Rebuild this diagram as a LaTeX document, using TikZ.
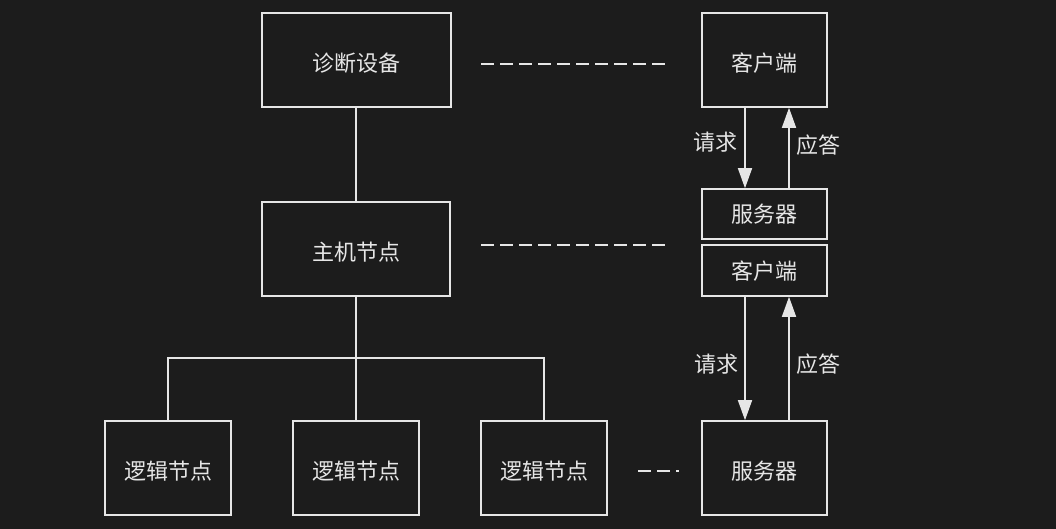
\documentclass[tikz,border=0pt]{standalone}
\usepackage{fontspec}
\newfontfamily\cjk{Noto Sans CJK SC}
\usetikzlibrary{arrows.meta}
\definecolor{bg}{HTML}{1C1C1C}
\definecolor{fg}{HTML}{E6E6E6}
\begin{document}
\begin{tikzpicture}[x=1pt,y=-1pt,
  box/.style={draw=fg,line width=1.6pt,fill=bg,text=fg,font=\cjk\fontsize{22}{24}\selectfont,inner sep=0pt,text height=24pt,text depth=1pt},
  smallbox/.style={box,text height=18pt,text depth=1pt},
  lbl/.style={text=fg,font=\cjk\fontsize{22}{24}\selectfont,inner sep=0pt},
  conn/.style={draw=fg,line width=1.6pt},
  dline/.style={draw=fg,line width=1.6pt,dash pattern=on 13pt off 6pt},
  arr/.style={draw=fg,line width=1.6pt,-{Triangle[width=14pt,length=20pt]}}]
\fill[bg] (0,0) rectangle (1056,529);
\useasboundingbox (0,0) rectangle (1056,529);
\node[box,minimum width=189pt,minimum height=94pt] (diag) at (356.5,60) {诊断设备};
\node[box,minimum width=188pt,minimum height=94pt] (host) at (356,249) {主机节点};
\node[box,minimum width=125pt,minimum height=94pt] (cli1) at (764.5,60) {客户端};
\node[smallbox,minimum width=125pt,minimum height=50pt] (srv1) at (764.5,214) {服务器};
\node[smallbox,minimum width=125pt,minimum height=51pt] (cli2) at (764.5,270.5) {客户端};
\node[box,minimum width=125pt,minimum height=94pt] (srv2) at (764.5,468) {服务器};
\node[box,minimum width=126pt,minimum height=94pt] (ln1) at (168,468) {逻辑节点};
\node[box,minimum width=126pt,minimum height=94pt] (ln2) at (356,468) {逻辑节点};
\node[box,minimum width=126pt,minimum height=94pt] (ln3) at (544,468) {逻辑节点};
\coordinate (j) at (356,358);
\draw[conn] (host.north |- diag.south) -- (host.north);
\draw[conn] (host.south) -- (j);
\draw[conn] (ln1.north) -- (ln1.north |- j) -- (ln3.north |- j) -- (ln3.north);
\draw[conn] (j) -- (ln2.north);
\coordinate (d1a) at (481,64); \coordinate (d1b) at (667,64);
\coordinate (d2a) at (481,245); \coordinate (d2b) at (667,245);
\coordinate (d3a) at (638,471); \coordinate (d3b) at (679,471);
\draw[dline] (d1a) -- (d1b);
\draw[dline] (d2a) -- (d2b);
\draw[dline] (d3a) -- (d3b);
\draw[arr] (cli1.south -| 745,0) -- (srv1.north -| 745,0);
\draw[arr] (srv1.north -| 789,0) -- (cli1.south -| 789,0);
\draw[arr] (cli2.south -| 745,0) -- (srv2.north -| 745,0);
\draw[arr] (srv2.north -| 789,0) -- (cli2.south -| 789,0);
\node[lbl] (q1) at (715,142) {请求};
\node[lbl] (a1) at (818,145) {应答};
\node[lbl] (q2) at (716,364) {请求};
\node[lbl] (a2) at (818,364) {应答};
\end{tikzpicture}
\end{document}
